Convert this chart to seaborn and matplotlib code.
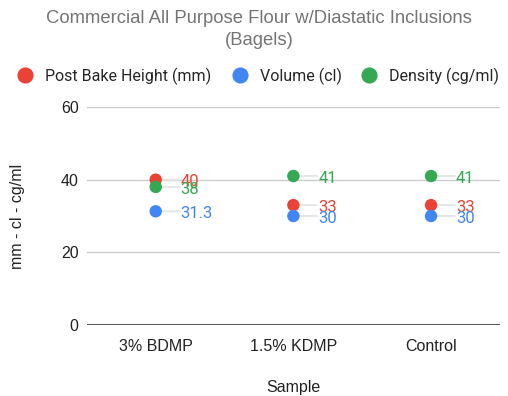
import pandas as pd
import matplotlib.pyplot as plt
import seaborn as sns

samples = ['3% BDMP', '1.5% KDMP', 'Control']
height_mm = [40, 33, 33]
volume_cl = [31.3, 30, 30]
density = [38, 41, 41]
series_names = ['Post Bake Height (mm)', 'Volume (cl)', 'Density (cg/ml)']
colors = ['#EA4335', '#4285F4', '#34A853']


def build_frame():
    rows = []
    for name, vals in zip(series_names, [height_mm, volume_cl, density]):
        for s, v in zip(samples, vals):
            rows.append({'Sample': s, 'value': v, 'series': name})
    return pd.DataFrame(rows)


def plot(df):
    sns.set_style('white')
    plt.rcParams['font.family'] = ['Liberation Sans', 'DejaVu Sans']
    fig = plt.figure(figsize=(5.08, 3.96), dpi=100)
    ax = fig.add_axes([0.171, 0.179, 0.813, 0.551])

    sns.scatterplot(data=df, x='Sample', y='value', hue='series', palette=colors,
                    hue_order=series_names, s=80, edgecolor='none', ax=ax, zorder=3)

    # data labels with short leader lines
    for name, col in zip(series_names, colors):
        sub = df[df['series'] == name]
        for i, v in enumerate(sub['value']):
            ax.annotate('', xy=(i, v), xytext=(17, 0), textcoords='offset points',
                        arrowprops=dict(arrowstyle='-', color='#e6e6e6', lw=1.5,
                                        shrinkA=0, shrinkB=0), zorder=2)
            ax.annotate(f'{v:g}', xy=(i, v), xytext=(18, -1.5), textcoords='offset points',
                        ha='left', va='center', color=col, fontsize=12,
                        family=['Roboto', 'DejaVu Sans'], zorder=4)

    ax.set_xlim(-0.5, 2.5)
    ax.set_ylim(0, 60)
    ax.set_yticks([0, 20, 40, 60])
    ax.grid(axis='y', color='#cccccc', lw=1)
    ax.axhline(0, color='#333333', lw=1.2, zorder=2)
    for sp in ax.spines.values():
        sp.set_visible(False)
    ax.tick_params(axis='y', length=0, labelsize=11.5, colors='#222222', pad=6)
    ax.tick_params(axis='x', length=0, labelsize=11.5, colors='#222222', pad=10)
    ax.set_xlabel('Sample', fontsize=11.5, color='#222222', labelpad=19)
    ax.set_ylabel('mm - cl - cg/ml', fontsize=11.5, color='#222222', labelpad=26)

    sns.move_legend(ax, 'lower left', bbox_to_anchor=(-0.203, 1.072), ncol=3, title=None,
                    frameon=False, handletextpad=0.25, columnspacing=0.75,
                    markerscale=1.3, borderaxespad=0,
                    prop={'family': ['Roboto', 'DejaVu Sans'], 'size': 11.5})

    fig.text(0.51, 0.953, 'Commercial All Purpose Flour w/Diastatic Inclusions',
             ha='center', va='center', fontsize=13.3, color='#757575')
    fig.text(0.51, 0.898, '(Bagels)', ha='center', va='center', fontsize=13.3, color='#757575')

    fig.savefig('out.png', dpi=100)


if __name__ == '__main__':
    plot(build_frame())
